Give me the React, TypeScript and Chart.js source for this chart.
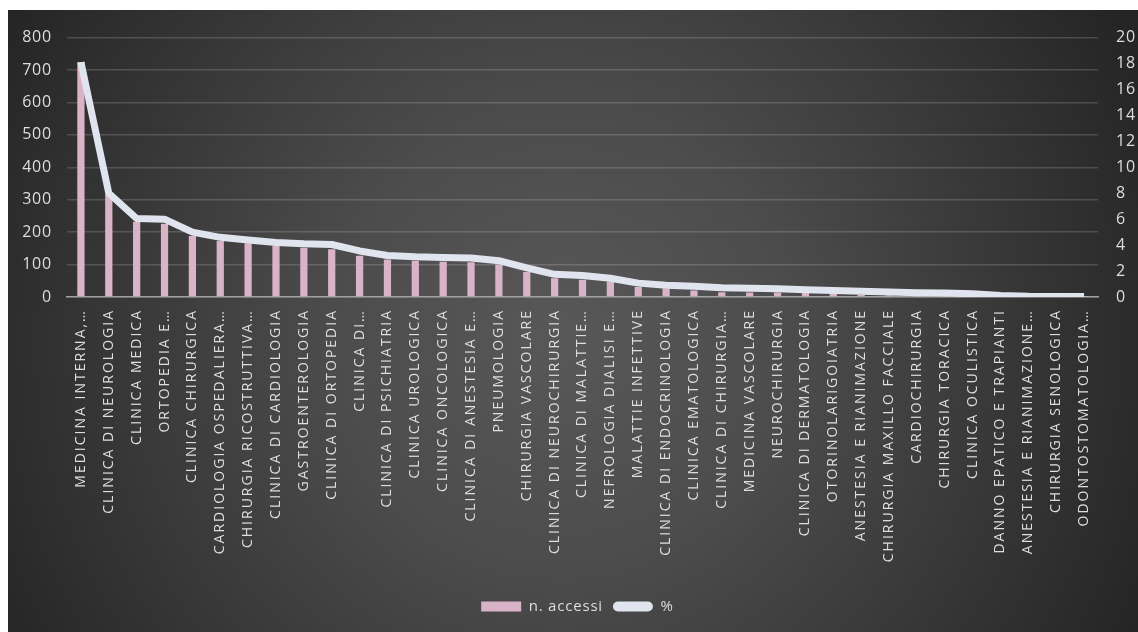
import { useEffect, useRef } from "react";
import { Chart, registerables } from "chart.js";

Chart.register(...registerables);

// Reparti, ordinati per numero di accessi
const reparti = [
  "MEDICINA INTERNA,…",
  "CLINICA DI NEUROLOGIA",
  "CLINICA MEDICA",
  "ORTOPEDIA E…",
  "CLINICA CHIRURGICA",
  "CARDIOLOGIA OSPEDALIERA…",
  "CHIRURGIA RICOSTRUTTIVA…",
  "CLINICA DI CARDIOLOGIA",
  "GASTROENTEROLOGIA",
  "CLINICA DI ORTOPEDIA",
  "CLINICA DI…",
  "CLINICA DI PSICHIATRIA",
  "CLINICA UROLOGICA",
  "CLINICA ONCOLOGICA",
  "CLINICA DI ANESTESIA E…",
  "PNEUMOLOGIA",
  "CHIRURGIA VASCOLARE",
  "CLINICA DI NEUROCHIRURGIA",
  "CLINICA DI MALATTIE…",
  "NEFROLOGIA DIALISI E…",
  "MALATTIE INFETTIVE",
  "CLINICA DI ENDOCRINOLOGIA",
  "CLINICA EMATOLOGICA",
  "CLINICA DI CHIRURGIA…",
  "MEDICINA VASCOLARE",
  "NEUROCHIRURGIA",
  "CLINICA DI DERMATOLOGIA",
  "OTORINOLARIGOIATRIA",
  "ANESTESIA E RIANIMAZIONE",
  "CHIRURGIA MAXILLO FACCIALE",
  "CARDIOCHIRURGIA",
  "CHIRURGIA TORACICA",
  "CLINICA OCULISTICA",
  "DANNO EPATICO E TRAPIANTI",
  "ANESTESIA E RIANIMAZIONE…",
  "CHIRURGIA SENOLOGICA",
  "ODONTOSTOMATOLOGIA…",
];

// n. accessi per reparto
const accessi = [
  725, 316, 232, 226, 188, 173, 166, 158, 152, 147, 127, 116, 112, 109, 107,
  100, 77, 58, 53, 48, 31, 26, 20, 15, 14, 14, 12, 9, 7, 5, 4, 4, 3, 1, 1, 1, 1,
];

// quota percentuale per reparto
const percentuale = [
  18.1, 8.0, 6.05, 6.0, 5.0, 4.6, 4.4, 4.2, 4.1, 4.05, 3.55, 3.2, 3.1, 3.05,
  3.0, 2.8, 2.25, 1.75, 1.65, 1.45, 1.07, 0.9, 0.82, 0.72, 0.68, 0.64, 0.55,
  0.5, 0.45, 0.38, 0.33, 0.3, 0.25, 0.12, 0.05, 0.03, 0.03,
];

// Scale ranges
const accessiMax = 800;
const accessiStep = 100;
const pctMax = 20;
const pctStep = 2;

const FONT = "'Open Sans', 'DejaVu Sans', sans-serif";
const TEXT = "#dedede";
const ROSA = "#d9b3c7";
const LINEA = "#dfe4ee";

// Dark radial background; wider letter spacing for the category labels,
// which are drawn after the datasets.
const sfondo = {
  id: "sfondo",
  beforeDraw(chart: any) {
    const { ctx, width, height } = chart;
    const cx = width * 0.49;
    const cy = height * 0.53;
    const g = ctx.createRadialGradient(cx, cy, 0, cx, cy, 650);
    g.addColorStop(0, "#585858");
    g.addColorStop(0.35, "#4c4c4c");
    g.addColorStop(1, "#242424");
    ctx.save();
    ctx.fillStyle = g;
    ctx.fillRect(0, 0, width, height);
    ctx.restore();
    ctx.letterSpacing = "0.8px";
  },
  afterDatasetsDraw(chart: any) {
    chart.ctx.letterSpacing = "2px";
  },
};

export default function App() {
  const canvasRef = useRef<HTMLCanvasElement | null>(null);

  useEffect(() => {
    const canvas = canvasRef.current;
    if (!canvas) return;
    const chart = new Chart(canvas, {
      type: "bar",
      data: {
        labels: reparti,
        datasets: [
          {
            type: "bar",
            label: "n. accessi",
            data: accessi,
            backgroundColor: ROSA,
            borderWidth: 0,
            categoryPercentage: 1,
            barPercentage: 0.26,
            yAxisID: "y",
            order: 1,
          },
          {
            type: "line",
            label: "%",
            data: percentuale,
            borderColor: LINEA,
            backgroundColor: LINEA,
            borderWidth: 7,
            pointRadius: 0,
            tension: 0,
            borderJoinStyle: "round",
            borderCapStyle: "butt",
            yAxisID: "y1",
            order: 0,
          },
        ],
      },
      options: {
        responsive: false,
        animation: false,
        layout: { padding: { left: 0, right: 0, top: 25, bottom: 8 } },
        plugins: {
          tooltip: { enabled: false },
          legend: {
            position: "bottom",
            labels: {
              color: TEXT,
              font: { family: FONT, size: 15 },
              boxWidth: 40,
              boxHeight: 10,
              padding: 10,
              useBorderRadius: true,
              sort: (a: any, b: any) => a.datasetIndex - b.datasetIndex,
              generateLabels: (c: any) => {
                const items =
                  Chart.defaults.plugins.legend.labels.generateLabels(c);
                return items.map((it: any) => ({
                  ...it,
                  lineWidth: 0,
                  borderRadius: it.datasetIndex === 1 ? 5 : 0,
                }));
              },
            },
          },
        },
        scales: {
          x: {
            grid: { display: false },
            border: { display: true, color: "#a0a0a0", width: 1.5 },
            ticks: {
              autoSkip: false,
              minRotation: 90,
              maxRotation: 90,
              padding: 4,
              color: TEXT,
              font: { family: FONT, size: 14 },
              z: 1,
            },
            afterFit: (s: any) => {
              s.height = 292;
            },
          },
          y: {
            position: "left",
            min: 0,
            max: accessiMax,
            ticks: {
              stepSize: accessiStep,
              padding: 15,
              color: TEXT,
              font: { family: FONT, size: 16 },
            },
            grid: {
              color: "rgba(255,255,255,0.16)",
              lineWidth: 1.5,
              drawTicks: false,
            },
            border: { display: false },
            afterFit: (s: any) => {
              s.width = 59;
            },
          },
          y1: {
            position: "right",
            min: 0,
            max: pctMax,
            ticks: {
              stepSize: pctStep,
              padding: 18,
              color: TEXT,
              font: { family: FONT, size: 16 },
            },
            grid: { display: false, drawTicks: false },
            border: { display: false },
            afterFit: (s: any) => {
              s.width = 40;
            },
          },
        },
      },
      plugins: [sfondo],
    } as any);
    return () => chart.destroy();
  }, []);

  return (
    <div
      style={{
        position: "fixed",
        left: 8,
        top: 10,
        width: 1130,
        height: 622,
      }}
    >
      <canvas
        ref={canvasRef}
        width={1130}
        height={622}
        style={{ display: "block", width: 1130, height: 622 }}
      />
    </div>
  );
}
